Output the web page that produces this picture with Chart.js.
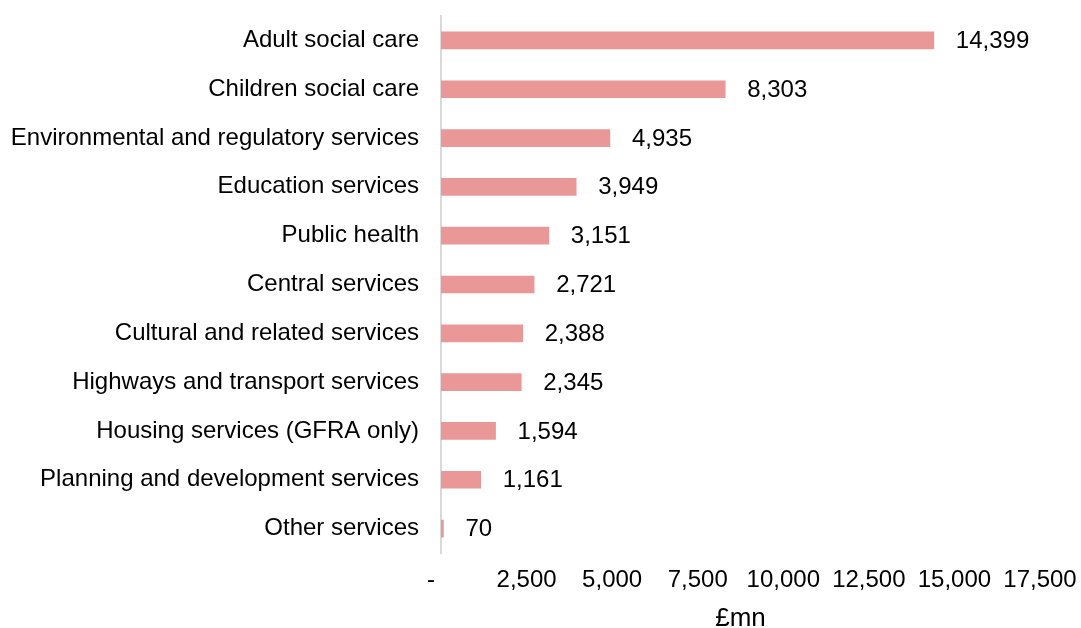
<!DOCTYPE html>
<html>
<head>
<meta charset="utf-8">
<script src="https://cdn.jsdelivr.net/npm/chart.js@4"></script>
<style>
  html, body { margin: 0; padding: 0; background: #fff; }
  #wrap { width: 1081px; height: 628px; }
</style>
</head>
<body>
<div id="wrap"><canvas id="spendChart" width="1081" height="628"></canvas></div>
<script>
// Service spend, £mn
const services = [
  "Adult social care",
  "Children social care",
  "Environmental and regulatory services",
  "Education services",
  "Public health",
  "Central services",
  "Cultural and related services",
  "Highways and transport services",
  "Housing services (GFRA only)",
  "Planning and development services",
  "Other services"
];
const spend = [14399, 8303, 4935, 3949, 3151, 2721, 2388, 2345, 1594, 1161, 70];
const xTicks = [0, 2500, 5000, 7500, 10000, 12500, 15000, 17500];

const FONT = "'Liberation Sans', Arial, sans-serif";

function fmt(n) {
  return n.toLocaleString("en-GB");
}

// value labels to the right of each bar
const barLabels = {
  id: "barLabels",
  afterDatasetsDraw(chart) {
    const ctx = chart.ctx;
    const meta = chart.getDatasetMeta(0);
    ctx.save();
    ctx.font = "24px " + FONT;
    ctx.fillStyle = "#000";
    ctx.textAlign = "left";
    ctx.textBaseline = "middle";
    meta.data.forEach((bar, i) => {
      ctx.fillText(fmt(spend[i]), bar.x + 22, bar.y + 1);
    });
    ctx.restore();
  }
};

new Chart(document.getElementById("spendChart"), {
  type: "bar",
  data: {
    labels: services,
    datasets: [{
      data: spend,
      backgroundColor: "#e99797",
      borderWidth: 0,
      barThickness: 17
    }]
  },
  options: {
    indexAxis: "y",
    responsive: false,
    animation: false,
    layout: { padding: { top: 16, right: 41, bottom: 0, left: 0 } },
    plugins: {
      legend: { display: false },
      tooltip: { enabled: false }
    },
    scales: {
      x: {
        min: 0,
        max: 17500,
        afterBuildTicks(scale) {
          scale.ticks = xTicks.map(v => ({ value: v }));
        },
        afterFit(scale) {
          scale.height = 75;
          // the layout padding already leaves room for the last tick label
          scale.paddingLeft = 0;
          scale.paddingRight = 0;
        },
        grid: { display: false, drawTicks: false },
        border: { display: false },
        ticks: {
          padding: 13,
          color: "#000",
          font: { family: FONT, size: 24 },
          maxRotation: 0,
          autoSkip: false,
          callback: v => v === 0 ? "-   " : fmt(v)
        },
        title: {
          display: true,
          text: "£mn",
          color: "#000",
          font: { family: FONT, size: 26 },
          padding: { top: 0, bottom: -6 }
        }
      },
      y: {
        afterFit(scale) {
          scale.width = 441;
          // keep the label padding from pushing the plot area down
          scale.paddingTop = 0;
          scale.paddingBottom = 0;
        },
        grid: { display: false, drawTicks: false },
        border: { display: true, color: "#d9d9d9", width: 2 },
        ticks: {
          padding: 22,
          color: "#000",
          font: { family: FONT, size: 24 }
        }
      }
    }
  },
  plugins: [barLabels]
});
</script>
</body>
</html>
